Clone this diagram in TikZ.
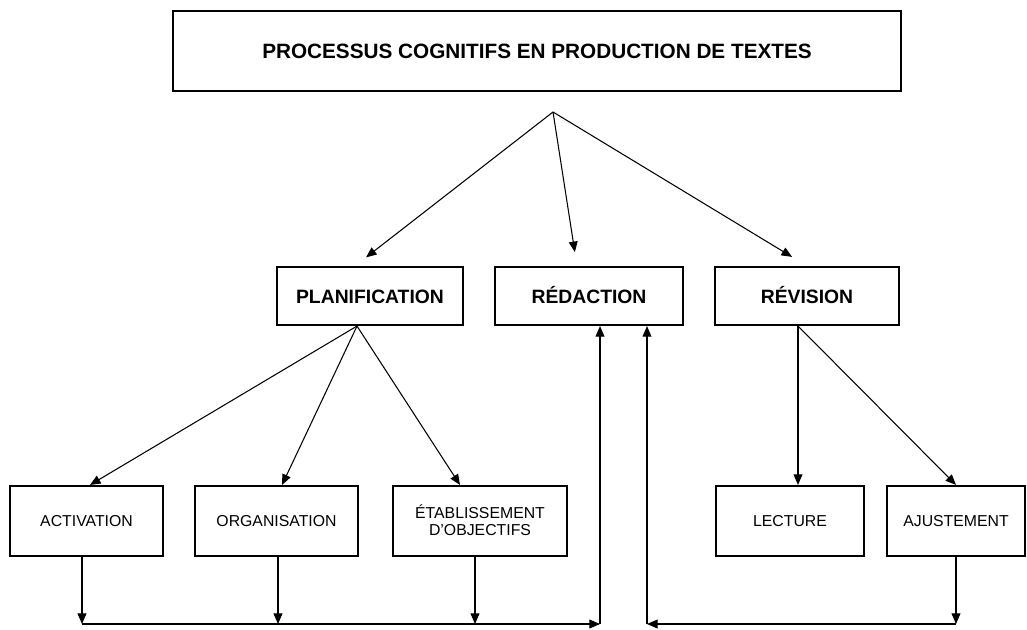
\documentclass[tikz,border=0pt]{standalone}
\usepackage{fontspec}
\setmainfont{Liberation Sans}
\usetikzlibrary{arrows.meta,positioning,calc}

\begin{document}
\begin{tikzpicture}[x=0.02cm,y=-0.02cm,>={Triangle[length=6pt,width=5pt]},
    box/.style={draw,line width=1.2pt,minimum height=1.16cm,inner sep=2pt,text height=8pt,text depth=0pt,font=\fontsize{11}{13}\selectfont\bfseries},
    sub/.style={draw,line width=1.2pt,minimum height=1.4cm,inner sep=2pt,align=center,text height=6.5pt,text depth=0pt,font=\fontsize{9}{9.5}\selectfont},
    arr/.style={->,line width=0.6pt}]
    \useasboundingbox (0,0) rectangle (1027,629);

    % title
    \node[draw,line width=1.2pt,minimum width=14.56cm,minimum height=1.6cm,font=\fontsize{11.8}{14}\selectfont\bfseries] (proc) at (537,51) {PROCESSUS COGNITIFS EN PRODUCTION DE TEXTES};

    % three processes
    \node[box,minimum width=3.72cm] (plan) at (370,296) {PLANIFICATION};
    \node[box,minimum width=3.76cm] (red) at (589,296) {RÉDACTION};
    \node[box,minimum width=3.68cm] (rev) at (807,296) {RÉVISION};

    % sub-processes
    \node[sub,minimum width=3.06cm] (act) at (86.5,521) {ACTIVATION};
    \node[sub,minimum width=3.26cm] (org) at (276.5,521) {ORGANISATION};
    \node[sub,minimum width=3.48cm,text height=16pt,text depth=-2.5pt] (etab) at (480,521) {ÉTABLISSEMENT\\D'OBJECTIFS};
    \node[sub,minimum width=2.96cm] (lect) at (790,521) {LECTURE};
    \node[sub,minimum width=2.76cm] (ajust) at (956,521) {AJUSTEMENT};

    \coordinate (fork) at (553,112);
    \coordinate (pbot) at ([xshift=-0.26cm]plan.south);
    \coordinate (rbot) at ([xshift=-0.18cm]rev.south);
    \coordinate (lcorner) at (600,624);
    \coordinate (rcorner) at (647,624);

    \draw[arr,shorten >=0.28cm] (fork) -- ([xshift=-0.3cm]plan.north);
    \draw[arr,shorten >=0.28cm] (fork) -- ([xshift=-0.24cm]red.north);
    \draw[arr,shorten >=0.35cm] (fork) -- (rev.north);

    \draw[arr] (pbot) -- ([xshift=0.07cm]act.north);
    \draw[arr] (pbot) -- ([xshift=0.11cm]org.north);
    \draw[arr] (pbot) -- ([xshift=-0.4cm]etab.north);

    \draw[arr] (rbot) -- (rbot |- lect.north);
    \draw[arr] (rbot) -- (ajust.north);

    % back to redaction
    \draw[arr] ([xshift=-0.09cm]act.south) -- ([xshift=-0.09cm]act.south |- lcorner);
    \draw[arr] ([xshift=0.03cm]org.south) -- ([xshift=0.03cm]org.south |- lcorner);
    \draw[arr] ([xshift=-0.1cm]etab.south) -- ([xshift=-0.1cm]etab.south |- lcorner);
    \draw[arr] ([xshift=-0.09cm]act.south |- lcorner) -- (lcorner);
    \draw[arr] (lcorner) -- (red.south -| lcorner);

    \draw[arr] (ajust.south) -- (ajust.south |- rcorner);
    \draw[arr] (ajust.south |- rcorner) -- (rcorner);
    \draw[arr] (rcorner) -- (red.south -| rcorner);
\end{tikzpicture}
\end{document}
